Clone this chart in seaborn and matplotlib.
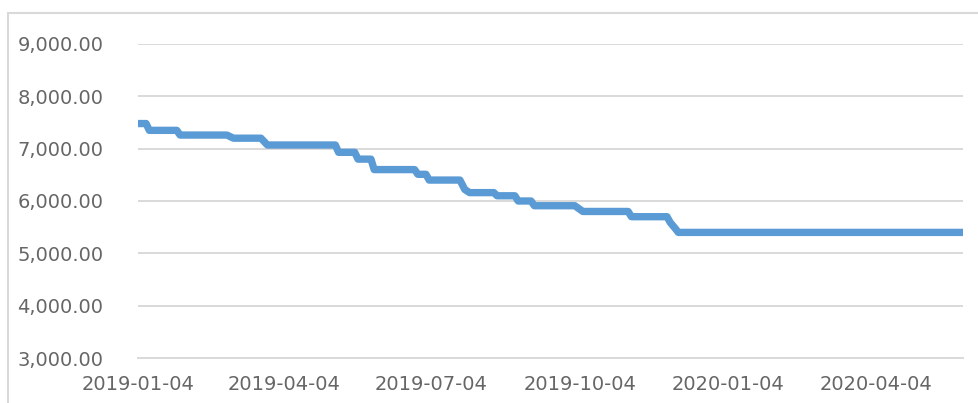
import numpy as np
import pandas as pd
import matplotlib
matplotlib.use("Agg")
import matplotlib.pyplot as plt
import matplotlib.dates as mdates
from matplotlib.ticker import FuncFormatter
from matplotlib.patches import Rectangle
import seaborn as sns

# vertices of the price line
dates = ["2019-01-04", "2019-01-09", "2019-01-11", "2019-01-28", "2019-01-30",
         "2019-02-28", "2019-03-04", "2019-03-21", "2019-03-25", "2019-05-06",
         "2019-05-08", "2019-05-18", "2019-05-20", "2019-05-28", "2019-05-30",
         "2019-06-24", "2019-06-26", "2019-07-01", "2019-07-03", "2019-07-22",
         "2019-07-25", "2019-07-28", "2019-08-12", "2019-08-14", "2019-08-25",
         "2019-08-27", "2019-09-04", "2019-09-06", "2019-10-01", "2019-10-06",
         "2019-11-03", "2019-11-05", "2019-11-27", "2019-11-29", "2019-12-02",
         "2019-12-04", "2020-05-28"]
prices = [7480, 7480, 7350, 7350, 7260,
          7260, 7200, 7200, 7070, 7070,
          6930, 6930, 6800, 6800, 6600,
          6600, 6510, 6510, 6400, 6400,
          6220, 6160, 6160, 6100, 6100,
          6000, 6000, 5910, 5910, 5800,
          5800, 5700, 5700, 5590, 5480,
          5400, 5400]

tick_dates = ["2019-01-04", "2019-04-04", "2019-07-04", "2019-10-04",
              "2020-01-04", "2020-04-04"]
y_ticks = [3000, 4000, 5000, 6000, 7000, 8000, 9000]

df = pd.DataFrame({"date": pd.to_datetime(dates), "price": prices})

sns.set_style("white")
plt.rcParams["font.family"] = ["DejaVu Sans"]

W, H = 979, 403
fig = plt.figure(figsize=(W / 100, H / 100), dpi=100)
ax = fig.add_axes([138 / W, 1 - 358 / H, (963 - 138) / W, (358 - 44) / H])

# chart frame
fig.patches.append(Rectangle((8 / W, -0.1), 1.2, 1.1 - 13 / H, transform=fig.transFigure,
                             fill=False, edgecolor="#d9d9d9", linewidth=1.5))

sns.lineplot(data=df, x="date", y="price", ax=ax, color="#5b9bd5",
             linewidth=5.3, solid_capstyle="butt", solid_joinstyle="round")

ax.set_ylim(3000, 9000)
ax.set_xlim(pd.Timestamp("2019-01-04"), pd.Timestamp("2020-05-28"))
ax.set_yticks(y_ticks)
ax.yaxis.set_major_formatter(FuncFormatter(lambda v, p: f"{v:,.2f}"))
ax.set_xticks(pd.to_datetime(tick_dates))
ax.xaxis.set_major_formatter(mdates.DateFormatter("%Y-%m-%d"))

ax.grid(axis="y", color="#d9d9d9", linewidth=1.4)
ax.set_axisbelow(True)
for s in ["top", "right", "left"]:
    ax.spines[s].set_visible(False)
ax.spines["bottom"].set_color("#d9d9d9")
ax.spines["bottom"].set_linewidth(1.4)

ax.tick_params(axis="y", length=0, pad=25, labelsize=14, labelcolor="#666666")
ax.tick_params(axis="x", length=4, width=1.2, color="#d9d9d9", pad=8,
               labelsize=14, labelcolor="#666666")
ax.set_xlabel("")
ax.set_ylabel("")

fig.savefig("out.png", dpi=100)
